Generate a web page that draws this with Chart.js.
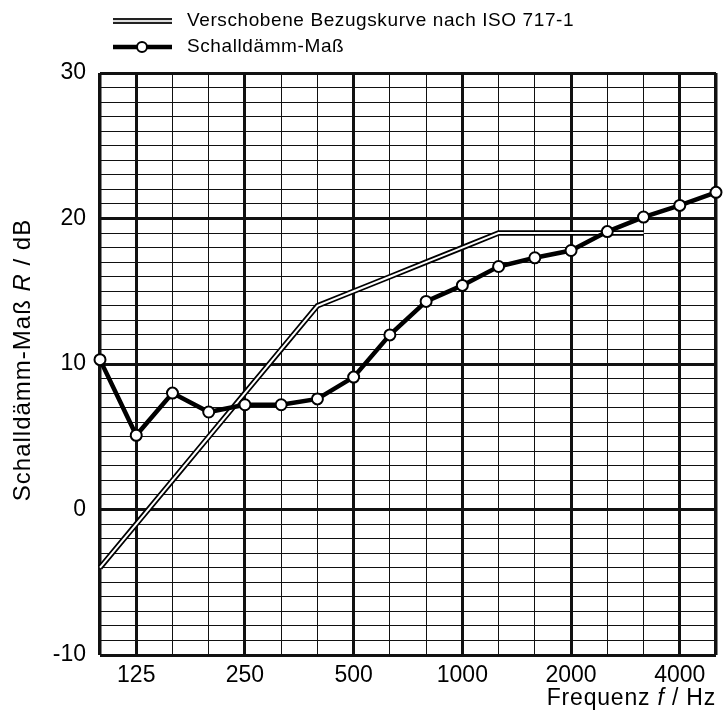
<!DOCTYPE html>
<html>
<head>
<meta charset="utf-8">
<script src="https://cdn.jsdelivr.net/npm/chart.js@4.4.1/dist/chart.umd.min.js"></script>
<style>
  html, body { margin: 0; padding: 0; background: #fff; }
  #wrap { width: 725px; height: 720px; position: relative; }
</style>
</head>
<body>
<div id="wrap"><canvas id="chart"></canvas></div>
<script>
// ---- Daten ----
const frequencies = ['100', '125', '160', '200', '250', '315', '400', '500', '630', '800',
                     '1000', '1250', '1600', '2000', '2500', '3150', '4000', '5000'];
const octaveLabels = ['125', '250', '500', '1000', '2000', '4000'];
const schalldaemmMass = [10.3, 5.1, 8.0, 6.7, 7.2, 7.2, 7.6, 9.1, 12.0, 14.3,
                         15.4, 16.7, 17.3, 17.8, 19.1, 20.1, 20.9, 21.8];
const bezugskurve = [-4, -1, 2, 5, 8, 11, 14, 15, 16, 17,
                     18, 19, 19, 19, 19, 19, null, null];
const yTicks = [-10, 0, 10, 20, 30];

const fontFamily = "'Liberation Sans', Arial, sans-serif";

// gemischt kursiver Text (Teile: [text, kursiv])
function drawParts(ctx, parts, size, spacing, x, y, align) {
    ctx.letterSpacing = spacing + 'px';
    let total = 0;
    parts.forEach(p => {
        ctx.font = (p[1] ? 'italic ' : '') + size + 'px ' + fontFamily;
        total += ctx.measureText(p[0]).width;
    });
    let cx = align === 'right' ? x - total : align === 'center' ? x - total / 2 : x;
    parts.forEach(p => {
        ctx.font = (p[1] ? 'italic ' : '') + size + 'px ' + fontFamily;
        ctx.fillText(p[0], cx, y);
        cx += ctx.measureText(p[0]).width;
    });
    ctx.letterSpacing = '0px';
}

// ---- Legende + Achsentitel ----
const decorPlugin = {
    id: 'decor',
    afterDraw(chart) {
        const ctx = chart.ctx;
        ctx.save();
        ctx.lineCap = 'butt';

        // Legende: Doppellinie
        ctx.strokeStyle = '#222';
        ctx.lineWidth = 6;
        ctx.beginPath(); ctx.moveTo(113, 21); ctx.lineTo(172, 21); ctx.stroke();
        ctx.strokeStyle = '#ddd';
        ctx.lineWidth = 2;
        ctx.beginPath(); ctx.moveTo(113, 21); ctx.lineTo(172, 21); ctx.stroke();

        // Legende: Linie mit Kreis
        ctx.strokeStyle = '#000';
        ctx.lineWidth = 4.5;
        ctx.beginPath(); ctx.moveTo(113, 47); ctx.lineTo(172, 47); ctx.stroke();
        ctx.fillStyle = '#fff';
        ctx.lineWidth = 2;
        ctx.beginPath(); ctx.arc(142, 47, 5, 0, Math.PI * 2); ctx.fill(); ctx.stroke();

        ctx.fillStyle = '#000';
        ctx.textBaseline = 'middle';
        ctx.textAlign = 'left';
        drawParts(ctx, [['Verschobene Bezugskurve nach ISO 717-1', false]], 19, 0.6, 187, 21, 'left');
        drawParts(ctx, [['Schalldämm-Maß', false]], 19, 0.6, 187, 47, 'left');

        // x-Titel
        ctx.textBaseline = 'alphabetic';
        drawParts(ctx, [['Frequenz ', false], ['f', true], [' / Hz', false]], 23, 0.8, 716, 705, 'right');

        // y-Titel
        ctx.textBaseline = 'middle';
        ctx.translate(23, 360);
        ctx.rotate(-Math.PI / 2);
        drawParts(ctx, [['Schalldämm-Maß ', false], ['R', true], [' / dB', false]], 24, 1, 0, 0, 'center');

        ctx.restore();
    }
};

new Chart(document.getElementById('chart').getContext('2d'), {
    type: 'line',
    data: {
        labels: frequencies,
        datasets: [
            {
                label: 'Schalldämm-Maß',
                data: schalldaemmMass,
                borderColor: '#000',
                borderWidth: 4.5,
                pointRadius: 5.5,
                pointBorderWidth: 2,
                pointBackgroundColor: '#fff',
                pointBorderColor: '#000',
                tension: 0,
                order: 0
            },
            {
                label: 'Bezugskurve innen',
                data: bezugskurve,
                borderColor: '#fff',
                borderWidth: 2,
                pointRadius: 0,
                tension: 0,
                order: 1
            },
            {
                label: 'Verschobene Bezugskurve nach ISO 717-1',
                data: bezugskurve,
                borderColor: '#000',
                borderWidth: 5.5,
                pointRadius: 0,
                tension: 0,
                order: 2
            }
        ]
    },
    options: {
        responsive: true,
        maintainAspectRatio: false,
        animation: false,
        layout: { padding: { top: 73, right: 9, left: 0, bottom: 0 } },
        plugins: {
            legend: { display: false },
            tooltip: { enabled: false }
        },
        scales: {
            x: {
                type: 'category',
                offset: false,
                afterFit(scale) { scale.height = 65; },
                grid: {
                    color: '#111',
                    lineWidth: ctx => {
                        const i = ctx.index;
                        if (i === 0 || i === frequencies.length - 1) return 3.5;
                        return octaveLabels.includes(frequencies[i]) ? 3 : 1;
                    },
                    drawTicks: false
                },
                border: { display: false },
                ticks: {
                    autoSkip: false,
                    maxRotation: 0,
                    padding: 7,
                    color: '#000',
                    font: { size: 23, family: fontFamily },
                    callback(value, index) {
                        const f = frequencies[index];
                        return octaveLabels.includes(f) ? f : '';
                    }
                }
            },
            y: {
                min: -10,
                max: 30,
                afterFit(scale) { scale.width = 100; },
                grid: {
                    color: '#111',
                    lineWidth: ctx => (ctx.tick && ctx.tick.value % 10 === 0 ? 3 : 1),
                    drawTicks: false
                },
                border: { display: false },
                ticks: {
                    stepSize: 1,
                    autoSkip: false,
                    padding: 14,
                    color: '#000',
                    font: { size: 23, family: fontFamily },
                    callback: v => (yTicks.includes(v) ? String(v) : '')
                }
            }
        }
    },
    plugins: [decorPlugin]
});
</script>
</body>
</html>
